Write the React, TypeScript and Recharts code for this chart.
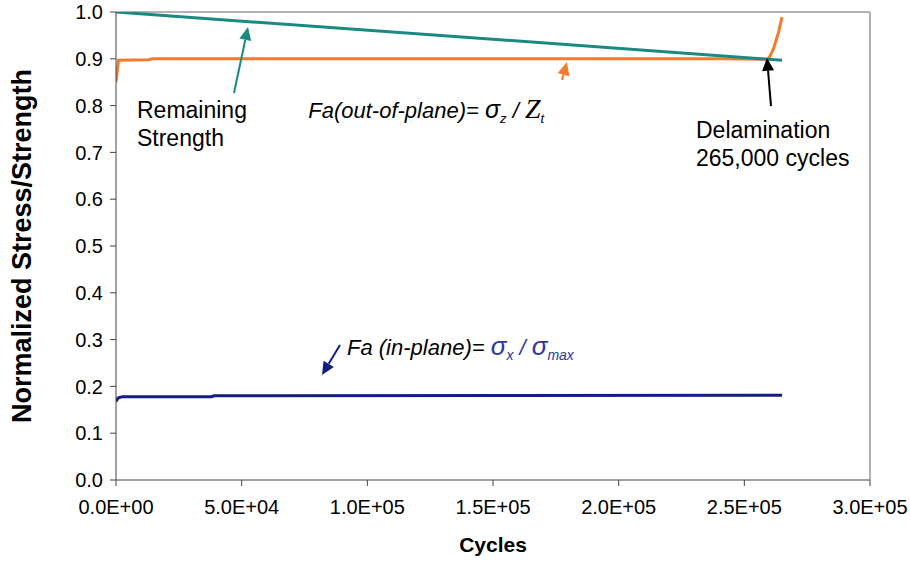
import React from 'react';
import { LineChart, Line, XAxis, YAxis, ReferenceLine, ReferenceDot } from 'recharts';

// ---- data ----
const xTicks = [0, 50000, 100000, 150000, 200000, 250000, 300000];
const yTicks = [0, 0.1, 0.2, 0.3, 0.4, 0.5, 0.6, 0.7, 0.8, 0.9, 1.0];

const strengthCycles = [0, 265000];
const strengthValues = [1.0, 0.897];

const outPlaneCycles = [0, 1000, 13000, 14500, 240000, 259600, 261600, 263600, 265000];
const outPlaneValues = [0.85, 0.897, 0.898, 0.9, 0.9, 0.899, 0.921, 0.957, 0.989];

const inPlaneCycles = [0, 800, 2500, 38000, 39000, 265000];
const inPlaneValues = [0.168, 0.175, 0.178, 0.178, 0.18, 0.181];

// arrows: tail -> tip, in data coordinates
const arrows = [
  { from: [46950, 0.827], to: [52520, 0.968], color: '#198a82' },
  { from: [177450, 0.855], to: [179440, 0.893], color: '#f47a2f' },
  { from: [260610, 0.799], to: [259020, 0.902], color: '#000000' },
  { from: [89125, 0.2885], to: [81965, 0.2244], color: '#141c80' },
];

const textAnchors = {
  remaining: [8355, 0.7735],
  outPlane: [76500, 0.7735],
  delam: [230770, 0.7308],
  inPlane: [91910, 0.2671],
};

const zip = (xs: number[], ys: number[]) => xs.map((c, i) => ({ c, v: ys[i] }));
const strengthData = zip(strengthCycles, strengthValues);
const outPlaneData = zip(outPlaneCycles, outPlaneValues);
const inPlaneData = zip(inPlaneCycles, inPlaneValues);

const FONT = '"Liberation Sans", Arial, sans-serif';
const SERIF = '"Liberation Serif", "Times New Roman", serif';

const fmtX = (v: number) => {
  const [m, e] = v.toExponential(1).split('e');
  const sign = e[0] === '-' ? '-' : '+';
  const num = e.replace(/[+-]/, '').padStart(2, '0');
  return `${m}E${sign}${num}`;
};

const ArrowShape = (color: string) => (p: any) => {
  const { x1, y1, x2, y2 } = p;
  if ([x1, y1, x2, y2].some((n: any) => typeof n !== 'number' || isNaN(n))) return null;
  const dx = x2 - x1, dy = y2 - y1;
  const len = Math.sqrt(dx * dx + dy * dy) || 1;
  const ux = dx / len, uy = dy / len;
  const hl = 13, hw = 6;
  const bx = x2 - ux * hl, by = y2 - uy * hl;
  const px = -uy, py = ux;
  return (
    <g>
      <line x1={x1} y1={y1} x2={bx} y2={by} stroke={color} strokeWidth={2} />
      <polygon
        points={`${x2},${y2} ${bx + px * hw},${by + py * hw} ${bx - px * hw},${by - py * hw}`}
        fill={color}
      />
    </g>
  );
};

const YTitle = (props: any) => {
  const vb = props.viewBox || {};
  const cy = vb.y + vb.height / 2;
  const cx = 22;
  return (
    <text
      x={cx}
      y={cy}
      transform={`rotate(-90, ${cx}, ${cy})`}
      textAnchor="middle"
      dominantBaseline="central"
      fontFamily={FONT}
      fontWeight="bold"
      fontSize={27}
      fill="#000"
    >
      Normalized Stress/Strength
    </text>
  );
};

const XTitle = (props: any) => {
  const vb = props.viewBox || {};
  const cx = vb.x + vb.width / 2;
  return (
    <text x={cx} y={552} textAnchor="middle" fontFamily={FONT} fontWeight="bold" fontSize={21} fill="#000">
      Cycles
    </text>
  );
};

const RemainingText = (p: any) => (
  <text x={p.cx} y={p.cy} fontFamily={FONT} fontSize={23} fill="#000">
    <tspan x={p.cx}>Remaining</tspan>
    <tspan x={p.cx} dy={28}>Strength</tspan>
  </text>
);

const DelamText = (p: any) => (
  <text x={p.cx} y={p.cy} fontFamily={FONT} fontSize={23} fill="#000">
    <tspan x={p.cx}>Delamination</tspan>
    <tspan x={p.cx} dy={28}>265,000 cycles</tspan>
  </text>
);

const OutPlaneText = (p: any) => (
  <text x={p.cx} y={p.cy} fontFamily={FONT} fontSize={22} fill="#000" fontStyle="italic">
    <tspan>Fa(out-of-plane)= </tspan>
    <tspan fontSize={25}>σ</tspan>
    <tspan dy={5} fontSize={13}>z</tspan>
    <tspan dy={-5}> / </tspan>
    <tspan fontFamily={SERIF} fontSize={28}>Z</tspan>
    <tspan dy={5} fontSize={13}>t</tspan>
  </text>
);

const InPlaneText = (p: any) => (
  <text x={p.cx} y={p.cy} fontFamily={FONT} fontSize={22} fill="#000" fontStyle="italic">
    <tspan>Fa (in-plane)= </tspan>
    <tspan fill="#2b3a9c" fontSize={26}>σ</tspan>
    <tspan fill="#2b3a9c" dy={5} fontSize={14}>x</tspan>
    <tspan fill="#2b3a9c" dy={-5}> / </tspan>
    <tspan fill="#2b3a9c" fontSize={26}>σ</tspan>
    <tspan fill="#2b3a9c" dy={5} fontSize={14}>max</tspan>
  </text>
);

export default function App() {
  return (
    <div style={{ position: 'absolute', left: 0, top: 0, width: 910, height: 563, background: '#fff' }}>
      <LineChart width={910} height={563} margin={{ top: 12, right: 40, left: 0, bottom: 0 }}>
        <XAxis
          type="number"
          dataKey="c"
          domain={[0, 300000]}
          ticks={xTicks}
          tickFormatter={fmtX}
          height={83}
          tickSize={6}
          tickMargin={14}
          stroke="#444"
          tick={{ fill: '#000', fontFamily: FONT, fontSize: 20 }}
          label={<XTitle />}
          allowDataOverflow
        />
        <YAxis
          type="number"
          dataKey="v"
          domain={[0, 1]}
          ticks={yTicks}
          tickFormatter={(v: number) => v.toFixed(1)}
          width={116}
          tickSize={6}
          tickMargin={7}
          stroke="#444"
          tick={{ fill: '#000', fontFamily: FONT, fontSize: 20 }}
          label={<YTitle />}
          allowDataOverflow
        />
        <ReferenceLine y={1} stroke="#999" strokeWidth={1.5} />
        <ReferenceLine x={300000} stroke="#999" strokeWidth={1.5} />

        <Line data={inPlaneData} dataKey="v" stroke="#141c80" strokeWidth={3} dot={false} isAnimationActive={false} type="linear" />
        <Line data={outPlaneData} dataKey="v" stroke="#f47a2f" strokeWidth={3} dot={false} isAnimationActive={false} type="linear" />
        <Line data={strengthData} dataKey="v" stroke="#198a82" strokeWidth={3} dot={false} isAnimationActive={false} type="linear" />

        {arrows.map((a, i) => (
          <ReferenceLine
            key={i}
            segment={[{ x: a.from[0], y: a.from[1] }, { x: a.to[0], y: a.to[1] }]}
            shape={ArrowShape(a.color)}
            ifOverflow="visible"
          />
        ))}

        <ReferenceDot x={textAnchors.remaining[0]} y={textAnchors.remaining[1]} r={0} shape={RemainingText} ifOverflow="visible" />
        <ReferenceDot x={textAnchors.outPlane[0]} y={textAnchors.outPlane[1]} r={0} shape={OutPlaneText} ifOverflow="visible" />
        <ReferenceDot x={textAnchors.delam[0]} y={textAnchors.delam[1]} r={0} shape={DelamText} ifOverflow="visible" />
        <ReferenceDot x={textAnchors.inPlane[0]} y={textAnchors.inPlane[1]} r={0} shape={InPlaneText} ifOverflow="visible" />
      </LineChart>
    </div>
  );
}
